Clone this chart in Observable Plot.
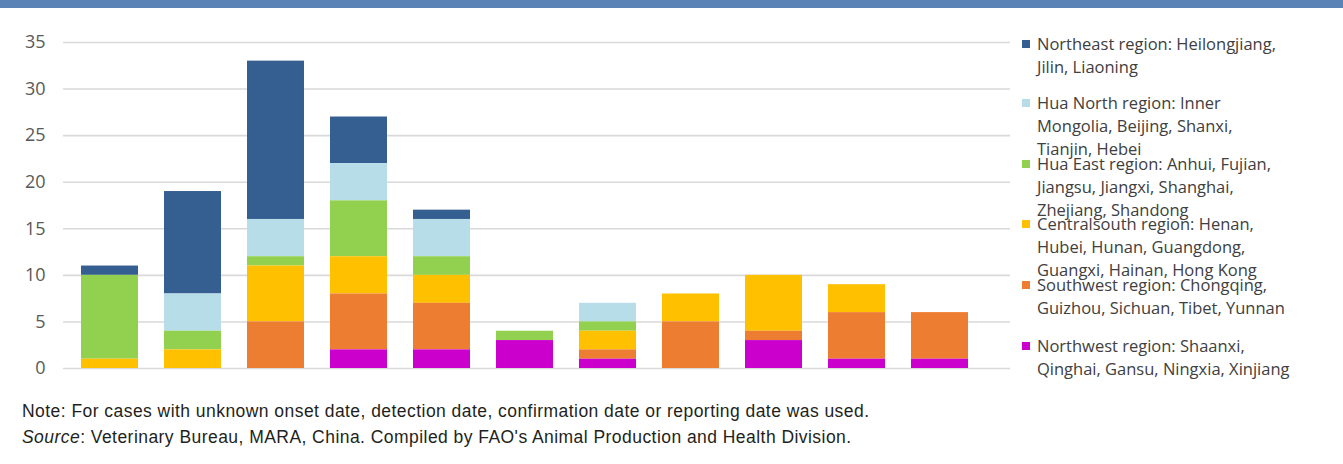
<!DOCTYPE html>
<html>
<head>
<meta charset="utf-8">
<script src="https://cdn.jsdelivr.net/npm/d3@7"></script>
<script src="https://cdn.jsdelivr.net/npm/@observablehq/plot@0.6"></script>
<style>
  html, body { margin: 0; padding: 0; background: #fff; }
  #wrap { position: relative; width: 1343px; height: 464px; overflow: hidden; }
  #band { position: absolute; left: 0; top: 0; width: 1343px; height: 8px; background: #5b83b6; }
  #chart { position: absolute; left: 0; top: 0; }
  #legend { position: absolute; left: 1022px; top: 0; font-family: "Open Sans", sans-serif; font-size: 16.5px; color: #404040; }
  .item { position: absolute; left: 0; width: 320px; line-height: 23px; }
  .sw { position: absolute; left: 0; top: 8px; width: 8px; height: 8px; }
  .txt { position: absolute; left: 15px; top: 0; white-space: nowrap; }
  #foot { position: absolute; left: 22px; top: 398px; font-family: "Liberation Sans", sans-serif; font-size: 17.5px; letter-spacing: 0.45px; color: #231f20; line-height: 26px; white-space: nowrap; }
</style>
</head>
<body>
<div id="wrap">
  <div id="band"></div>
  <div id="chart"></div>
  <div id="legend"></div>
  <div id="foot">
    <div>Note: For cases with unknown onset date, detection date, confirmation date or reporting date was used.</div>
    <div><i>Source</i>: Veterinary Bureau, MARA, China. Compiled by FAO's Animal Production and Health Division.</div>
  </div>
</div>
<script>
// Categories (periods, unlabeled in the reference)
const periods = ["P1","P2","P3","P4","P5","P6","P7","P8","P9","P10","P11"];
// Regions, in legend order (top of stack first)
const regions = ["Northeast","Hua North","Hua East","Centralsouth","Southwest","Northwest"];
const regionLabels = [
  ["Northeast region: Heilongjiang,", "Jilin, Liaoning"],
  ["Hua North region: Inner", "Mongolia, Beijing, Shanxi,", "Tianjin, Hebei"],
  ["Hua East region: Anhui, Fujian,", "Jiangsu, Jiangxi, Shanghai,", "Zhejiang, Shandong"],
  ["Centralsouth region: Henan,", "Hubei, Hunan, Guangdong,", "Guangxi, Hainan, Hong Kong"],
  ["Southwest region: Chongqing,", "Guizhou, Sichuan, Tibet, Yunnan"],
  ["Northwest region: Shaanxi,", "Qinghai, Gansu, Ningxia, Xinjiang"]
];
const regionColors = ["#365f91","#b7dde8","#92d050","#ffc000","#ed7d31","#cc00cc"];
// Series values per region
const northeast    = [1, 11, 17, 5, 1, 0, 0, 0, 0, 0, 0];
const huaNorth     = [0, 4, 4, 4, 4, 0, 2, 0, 0, 0, 0];
const huaEast      = [9, 2, 1, 6, 2, 1, 1, 0, 0, 0, 0];
const centralsouth = [1, 2, 6, 4, 3, 0, 2, 3, 6, 3, 0];
const southwest    = [0, 0, 5, 6, 5, 0, 1, 5, 1, 5, 5];
const northwest    = [0, 0, 0, 2, 2, 3, 1, 0, 3, 1, 1];
// Y-axis tick labels
const yTicks = [0, 5, 10, 15, 20, 25, 30, 35];

const series = [northeast, huaNorth, huaEast, centralsouth, southwest, northwest];
const stackOrder = ["Northwest","Southwest","Centralsouth","Hua East","Hua North","Northeast"];
const data = [];
regions.forEach((r, i) => periods.forEach((p, j) => data.push({period: p, region: r, value: series[i][j]})));

const chart = Plot.plot({
  width: 1010,
  height: 390,
  marginTop: 42,
  marginBottom: 22,
  marginLeft: 63,
  marginRight: 0,
  style: {fontFamily: "'Open Sans', sans-serif", fontSize: "18px", color: "#595959", background: "transparent"},
  x: {domain: periods, range: [78, 970], paddingInner: 0.317, paddingOuter: 0, axis: null},
  y: {domain: [0, 35], ticks: yTicks, tickSize: 0, tickPadding: 18, label: null},
  color: {domain: regions, range: regionColors},
  marks: [
    Plot.ruleY(yTicks, {stroke: "#d9d9d9", strokeWidth: 1.6}),
    Plot.barY(data, Plot.stackY({order: stackOrder}, {x: "period", y: "value", fill: "region"}))
  ]
});
document.getElementById("chart").appendChild(chart);

const legend = document.getElementById("legend");
const tops = [32, 91, 152, 212, 273, 334];
regions.forEach((r, i) => {
  const item = document.createElement("div");
  item.className = "item";
  item.style.top = tops[i] + "px";
  const sw = document.createElement("div");
  sw.className = "sw";
  sw.style.background = regionColors[i];
  const txt = document.createElement("div");
  txt.className = "txt";
  txt.innerHTML = regionLabels[i].join("<br>");
  item.appendChild(sw);
  item.appendChild(txt);
  legend.appendChild(item);
});
</script>
</body>
</html>
